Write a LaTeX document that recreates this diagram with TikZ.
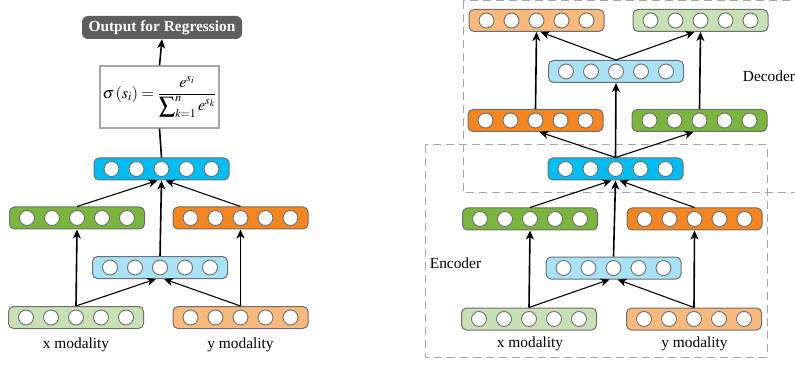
\documentclass[tikz,border=0pt]{standalone}
\usepackage{mathptmx}
\usepackage{fontspec}
\setmainfont{Liberation Serif}
\usetikzlibrary{arrows.meta}
\definecolor{bleu}{HTML}{00BDF2}
\definecolor{bleuclair}{HTML}{A8E2F6}
\definecolor{vert}{HTML}{7AB63E}
\definecolor{vertclair}{HTML}{C8E1B4}
\definecolor{orange}{HTML}{F5851F}
\definecolor{orangeclair}{HTML}{F8B97B}
\definecolor{gris}{HTML}{6E6E6E}
\definecolor{grisclair}{HTML}{A6A6A6}
\definecolor{grisfonce}{HTML}{5E5E5E}
\begin{document}
\begin{tikzpicture}[x=1pt,y=-1pt]
		\tikzstyle{couche}=[draw=gris,line width=1pt,rounded corners=5pt,minimum width=135pt,minimum height=22pt,inner sep=0pt]
		\tikzstyle{neurone}=[circle,draw=gris,fill=white,line width=0.9pt,minimum size=15pt,inner sep=0pt]
		\tikzstyle{fleche}=[-{Stealth[length=9pt,width=8pt,inset=2.5pt]},line width=1.1pt]
		\tikzstyle{flecheV}=[fleche,line width=1.6pt]
		\tikzstyle{texte}=[font=\fontsize{15.4}{18}\selectfont,inner sep=0pt]
		\tikzstyle{cadre}=[draw=grisclair,dash pattern=on 8pt off 5pt,line width=1pt]
		\def\Couche#1#2#3{\node[couche,fill=#3] (#1) at (#2) {};
			\foreach \k in {-2,...,2} \node[neurone] at ([xshift=\k*25pt]#1.center) {};}
		\useasboundingbox (0,0) rectangle (795,366);
		% cadres
		\draw[cadre] (463,1) rectangle (805,193);
		\draw[cadre] (425,145) rectangle (767,357);
		% regression
		\node[fill=grisfonce,rounded corners=6pt,text=white,font=\fontsize{15.4}{18}\selectfont\bfseries,minimum width=160pt,minimum height=23pt,inner sep=0pt] (sortie) at (162,27.5) {Output for Regression};
		\node[draw=grisclair,fill=white,line width=1.3pt,minimum width=119pt,minimum height=62pt,inner sep=0pt,font=\fontsize{16}{19}\selectfont] (formule) at (159.5,97) {$\displaystyle\sigma\left(s_i\right)=\frac{e^{s_i}}{\displaystyle\sum\nolimits_{k=1}^{n}e^{s_k}}$};
		\Couche{bleuG}{161.5,169}{bleu}
		\Couche{vertG}{77,218}{vert}
		\Couche{orangeG}{240.5,218}{orange}
		\Couche{bleuclairG}{160,267.5}{bleuclair}
		\Couche{vertclairG}{76,317.5}{vertclair}
		\Couche{orangeclairG}{240.5,317.5}{orangeclair}
		\node[texte] (xG) at (76,345) {x modality};
		\node[texte] (yG) at (240.5,345) {y modality};
		\draw[flecheV] (vertclairG.north)--(vertG.south);
		\draw[flecheV] (orangeclairG.north)--(orangeG.south);
		\draw[fleche] (vertclairG.north)--([xshift=-4pt]bleuclairG.south);
		\draw[fleche] (orangeclairG.north)--([xshift=4pt]bleuclairG.south);
		\draw[flecheV] (bleuclairG.north)--(bleuG.south);
		\draw[fleche] (vertG.north)--([xshift=-4pt]bleuG.south);
		\draw[fleche] (orangeG.north)--([xshift=4pt]bleuG.south);
		\draw[line width=1.6pt] (bleuG.north)--(formule.south);
		\draw[flecheV] (formule.north)--(sortie.south);
		% encodeur
		\Couche{bleuD}{615.5,169}{bleu}
		\Couche{vertD}{530,219}{vert}
		\Couche{orangeD}{694.5,219}{orange}
		\Couche{bleuclairD}{613.5,268}{bleuclair}
		\Couche{vertclairD}{529,319}{vertclair}
		\Couche{orangeclairD}{694,319}{orangeclair}
		\node[texte] (xD) at (530,344) {x modality};
		\node[texte] (yD) at (694.5,344) {y modality};
		\node[texte] (enc) at (455.5,263) {Encoder};
		\draw[flecheV] (vertclairD.north)--(vertD.south);
		\draw[flecheV] (orangeclairD.north)--(orangeD.south);
		\draw[fleche] (vertclairD.north)--([xshift=-4pt]bleuclairD.south);
		\draw[fleche] (orangeclairD.north)--([xshift=4pt]bleuclairD.south);
		\draw[flecheV] (bleuclairD.north)--(bleuD.south);
		\draw[fleche] (vertD.north)--([xshift=-4pt]bleuD.south);
		\draw[fleche] (orangeD.north)--([xshift=4pt]bleuD.south);
		% decodeur
		\Couche{orangeDb}{535.5,120.5}{orange}
		\Couche{vertDb}{699.5,120.5}{vert}
		\Couche{bleuclairDb}{616,71.5}{bleuclair}
		\Couche{orangeclairDb}{536.5,20.5}{orangeclair}
		\Couche{vertclairDb}{700.5,20.5}{vertclair}
		\node[texte] (dec) at (769,76) {Decoder};
		\draw[fleche] (bleuD.north)--([xshift=4pt]orangeDb.south);
		\draw[fleche] (bleuD.north)--([xshift=-6pt]vertDb.south);
		\draw[flecheV] (bleuD.north)--(bleuclairDb.south);
		\draw[flecheV] (orangeDb.north)--(orangeclairDb.south);
		\draw[flecheV] (vertDb.north)--(vertclairDb.south);
		\draw[fleche] (bleuclairDb.north)--([xshift=4pt]orangeclairDb.south);
		\draw[fleche] (bleuclairDb.north)--([xshift=-6pt]vertclairDb.south);
\end{tikzpicture}
\end{document}
